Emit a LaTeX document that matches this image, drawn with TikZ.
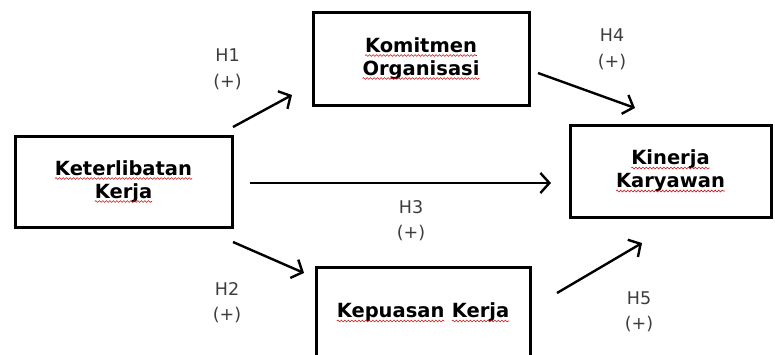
\documentclass[tikz,border=0pt]{standalone}
\usepackage{fontspec}
\setmainfont{DejaVu Sans}
\usetikzlibrary{arrows.meta,positioning,decorations.pathmorphing}
\definecolor{spellred}{RGB}{200,20,20}
\definecolor{hypgray}{RGB}{60,60,60}
\newcommand\redwave[1]{\tikz[baseline=(w.base)]{\node[draw=none,inner sep=0pt,outer sep=0pt,
    minimum width=0pt,minimum height=0pt] (w) {#1};
  \draw[spellred,line width=0.6pt,decorate,decoration={snake,amplitude=0.9pt,segment length=3.5pt}]
    ([yshift=-3.4pt]w.base west) -- ([yshift=-3.4pt]w.base east);}}

\begin{document}
\begin{tikzpicture}[
  x=1pt,y=-1pt,
  varbox/.style={draw,line width=3pt,font=\fontsize{19.5}{23}\selectfont\bfseries,
    align=center,inner sep=0pt},
  hyp/.style={font=\fontsize{17.5}{25.5}\selectfont,text=hypgray,align=center},
  hlink/.style={line width=2.4pt,-{Straight Barb[length=9pt,width=20pt,line width=2.4pt]}}
]
  \useasboundingbox (0,0) rectangle (775,354);
  \clip (0,0) rectangle (775,354);
  % boxes
  \node[varbox,minimum width=217pt,minimum height=91pt] (ker) at (123.5,181.5)
    {\redwave{Keterlibatan}\\\redwave{Kerja}};
  \node[varbox,minimum width=216pt,minimum height=93pt] (kom) at (421,58.5)
    {\redwave{Komitmen}\\\redwave{Organisasi}};
  \node[varbox,minimum width=201pt,minimum height=92pt] (kin) at (670.5,171)
    {\redwave{Kinerja}\\\redwave{Karyawan}};
  \node[varbox,minimum width=214pt,minimum height=91pt] (kep) at (423,312.5)
    {\redwave{Kepuasan} \redwave{Kerja}};
  % arrow ends
  \coordinate (h1a) at (233,127);  \coordinate (h1b) at (292,95);
  \coordinate (h2a) at (233,242);  \coordinate (h2b) at (304,273);
  \coordinate (h3a) at (250,183);  \coordinate (h3b) at (551,183);
  \coordinate (h4a) at (538,73);   \coordinate (h4b) at (635,108);
  \coordinate (h5a) at (557,293);  \coordinate (h5b) at (642,243);
  \draw[hlink] (h1a) -- (h1b);
  \draw[hlink] (h2a) -- (h2b);
  \draw[hlink] (h3a) -- (h3b);
  \draw[hlink] (h4a) -- (h4b);
  \draw[hlink] (h5a) -- (h5b);
  % labels
  \node[hyp] (l1) at (227.5,69.5) {H1\\(+)};
  \node[hyp] (l2) at (227,302.5) {H2\\(+)};
  \node[hyp] (l3) at (411,220.5) {H3\\(+)};
  \node[hyp] (l4) at (612,49.5) {H4\\(+)};
  \node[hyp] (l5) at (639,312) {H5\\(+)};
\end{tikzpicture}
\end{document}
